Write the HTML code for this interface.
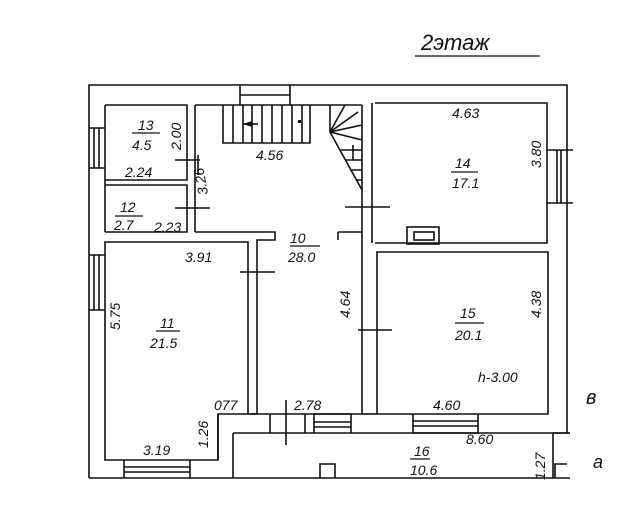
<!DOCTYPE html>
<html><head><meta charset="utf-8"><style>
html,body{margin:0;padding:0;background:#fff}
svg{display:block}
text{font-family:"Liberation Sans",sans-serif;font-style:italic;fill:#111}
</style></head><body>
<svg width="640" height="522" viewBox="0 0 640 522" xmlns="http://www.w3.org/2000/svg">
<rect width="640" height="522" fill="#fff"/>
<g stroke="#111" stroke-width="1.6" fill="none">
<path d="M89 478 V85 H567 V433"/>
<path d="M89 478 H570"/>
<path d="M553 433 V478 M553 433 H570"/>
<path d="M105 105 V232"/>
<path d="M105 105 H187 V180 H105"/>
<path d="M195 105 V232"/>
<path d="M105 185 H187 V232 H105"/>
<path d="M195 232 H275 V240 H257 V414"/>
<path d="M105 242 H248 V414 H218 V460 H105 Z"/>
<path d="M195 105 H362"/>
<path d="M362 105 V232 M372 103 V243"/>
<path d="M338 232 H362 V414 H257"/>
<path d="M338 232 V240"/>
<path d="M248 414 H257"/>
<path d="M375 103 H547 V243 H375"/>
<path d="M377 252 H548 V414 H377 Z"/>
<path d="M362 414 H377"/>
<path d="M233 433 H570 M233 433 V478"/>
<path d="M218 414 V460 M250 414 H257"/>
<path d="M270 414 V433 M305 414 V433 M314 414 V433"/>
<path d="M320 478 V464 H335 V478"/>
<path d="M555 478 V464 H567"/>
<path d="M314 414 H351 V433 M314 422 H351 M314 427 H351"/>
<path d="M413 414 V433 H478 V414 M413 421 H478 M413 426 H478"/>
<path d="M124 460 V478 M190 460 V478 M124 467 H190 M124 472 H190"/>
<path d="M89 255 H105 M89 310 H105 M94 255 V310 M99 255 V310"/>
<path d="M89 128 H105 M89 168 H105 M94 128 V168 M99 128 V168"/>
<path d="M547 150 H573 M547 203 H573 M557 150 V203 M561 150 V203"/>
<path d="M240 85 V105 M290 85 V105 M240 95 H290"/>
<path d="M223 105 V143 H310 V105"/>
<path d="M233 105 V143 M243 105 V143 M252 105 V143 M262 105 V143 M272 105 V143 M282 105 V143 M292 105 V143 M302 105 V143"/>
<path d="M243 124 H258"/>
<path d="M330 105 V132 L362 190"/>
<path d="M330 132 L345 105 M330 132 L358 112 M330 132 L362 125 M330 132 L362 140 M340 150 H362 M345 160 H362 M350 170 H362 M356 180 H362"/>
<path d="M353 145 V160"/>
<path d="M175 160 H200 M175 208 H210 M345 207 H390 M358 330 H392 M240 272 H275 M286 400 V445 M198 155 V175"/>
<rect x="407" y="227" width="32" height="17"/>
<rect x="414" y="232" width="20" height="8"/>
</g>
<path d="M243 124 L252 121 L252 127 Z" fill="#111"/>
<rect x="298" y="120" width="3" height="3" fill="#111"/>
<g stroke="#111" stroke-width="1.2">
<line x1="132" y1="133" x2="160" y2="133"/>
<line x1="115" y1="216" x2="143" y2="216"/>
<line x1="290" y1="246" x2="320" y2="246"/>
<line x1="156" y1="331" x2="180" y2="331"/>
<line x1="451" y1="172" x2="478" y2="172"/>
<line x1="455" y1="323" x2="484" y2="323"/>
<line x1="410" y1="459" x2="430" y2="459"/>
<line x1="415" y1="56" x2="540" y2="56"/>
</g>
<g font-size="14">
<text x="138" y="130">13</text><text x="132" y="150">4.5</text>
<text x="120" y="212">12</text><text x="114" y="230">2.7</text>
<text x="125" y="177">2.24</text><text x="154" y="232">2.23</text>
<text x="290" y="243">10</text><text x="288" y="262">28.0</text>
<text x="160" y="328">11</text><text x="150" y="348">21.5</text>
<text x="455" y="168">14</text><text x="452" y="188">17.1</text>
<text x="460" y="318">15</text><text x="455" y="340">20.1</text>
<text x="414" y="456">16</text><text x="410" y="475">10.6</text>
<text x="185" y="262">3.91</text><text x="256" y="160">4.56</text>
<text x="452" y="118">4.63</text>
<text x="478" y="382">h-3.00</text>
<text x="433" y="410">4.60</text><text x="294" y="410">2.78</text>
<text x="214" y="410">077</text><text x="143" y="455">3.19</text>
<text x="466" y="444">8.60</text>
<text x="593" y="468" font-size="18">a</text>
<text x="586" y="404" font-size="20">в</text>
<text x="421" y="50" font-size="22">2этаж</text>
<text transform="translate(181,150) rotate(-90)">2.00</text>
<text transform="translate(208,194) rotate(-100)">3.26</text>
<text transform="translate(541,168) rotate(-90)">3.80</text>
<text transform="translate(541,318) rotate(-90)">4.38</text>
<text transform="translate(350,318) rotate(-90)">4.64</text>
<text transform="translate(120,330) rotate(-90)">5.75</text>
<text transform="translate(208,448) rotate(-90)">1.26</text>
<text transform="translate(545,480) rotate(-90)">1.27</text>
</g>
</svg>
</body></html>
